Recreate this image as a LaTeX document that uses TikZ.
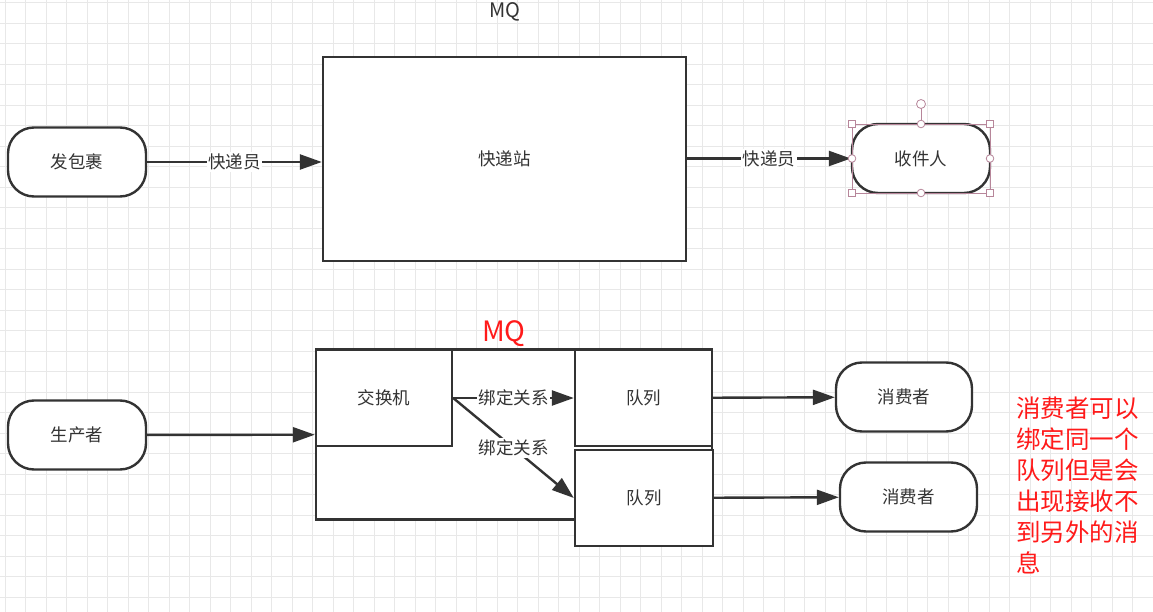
\documentclass[tikz,border=0pt]{standalone}
\usepackage{fontspec}
\setmainfont{Noto Sans CJK SC}
\usetikzlibrary{arrows.meta}
\definecolor{lc}{HTML}{333333}
\definecolor{gridc}{HTML}{E8E8E8}
\definecolor{hc}{HTML}{B7869A}
\definecolor{redt}{HTML}{FF1A1A}
\begin{document}
\begin{tikzpicture}[x=1pt,y=-1pt,
  txt/.style={font=\fontsize{17.5}{21}\selectfont, text=lc},
  pill/.style={draw=lc, line width=2.4pt, fill=white, rounded corners=26pt, minimum width=138pt, minimum height=69pt, inner sep=0pt, txt},
  box/.style={draw=lc, line width=2.4pt, fill=white, inner sep=0pt, txt},
  conn/.style={draw=lc, line width=2.4pt, -{Triangle[length=22pt,width=15pt]}},
  lab/.style={fill=white, inner sep=1.5pt, txt},
  handle/.style={draw=hc, line width=0.8pt, fill=white}]
\useasboundingbox (0,0) rectangle (1153,612);
\fill[white] (0,0) rectangle (1153,612);
% grid
\foreach \x in {5,25.5,...,1153} \draw[gridc, line width=0.7pt] (\x,0) -- (\x,612);
\foreach \y in {2.5,23,...,612} \draw[gridc, line width=0.7pt] (0,\y) -- (1153,\y);

% top diagram
\node[font=\fontsize{20}{24}\selectfont, text=lc] (mqtop) at (505,12) {MQ};
\node[pill] (fbg) at (77,162) {发包裹};
\node[box, minimum width=363pt, minimum height=204pt] (kdz) at (504.5,159) {快递站};
\node[pill] (sjr) at (921,158.5) {收件人};
\draw[conn] (fbg) -- node[lab] {快递员} (fbg -| kdz.west);
\draw[conn] (kdz.east |- sjr) -- node[lab] {快递员} (sjr);

% selection handles
\draw[hc, line width=0.5pt] (852,124) rectangle (990,193);
\draw[hc, line width=0.8pt] (921,108.5) -- (921,124);
\draw[handle] (921,104) circle (4.5pt);
\foreach \p in {(852,124),(990,124),(852,193),(990,193)}
  \draw[handle] \p ++(-3.8,-3.8) rectangle ++(7.6,7.6);
\foreach \p in {(921,124),(921,193),(852,158.5),(990,158.5)}
  \draw[handle] \p circle (3.8pt);

% bottom diagram
\node[font=\fontsize{28}{32}\selectfont, text=redt] (mqred) at (504,334) {MQ};
\node[box, minimum width=396pt, minimum height=170pt] (mq) at (514,434.5) {};
\node[box, minimum width=136pt, minimum height=96pt] (jhj) at (384,398) {交换机};
\node[box, minimum width=137pt, minimum height=96pt] (dl1) at (643.5,398) {队列};
\node[box, minimum width=138pt, minimum height=96pt] (dl2) at (644,498) {队列};
\node[pill] (scz) at (77,435) {生产者};
\node[pill, minimum width=136pt] (xf1) at (904,397) {消费者};
\node[pill, minimum width=137pt] (xf2) at (908.5,497) {消费者};

\draw[conn] (scz) -- (mq);
\draw[conn] (jhj.east) -- node[lab] {绑定关系} (dl1.west);
\draw[conn] (jhj.east) -- node[lab] {绑定关系} (dl2.west);
\draw[conn] (dl1) -- (xf1);
\draw[conn] (dl2) -- (xf2);

\node[anchor=north west, inner sep=0pt, align=left, text=redt,
  font=\fontsize{24.5}{31}\selectfont] (note) at (1016,397)
  {消费者可以\\绑定同一个\\队列但是会\\出现接收不\\到另外的消\\息};
\end{tikzpicture}
\end{document}
